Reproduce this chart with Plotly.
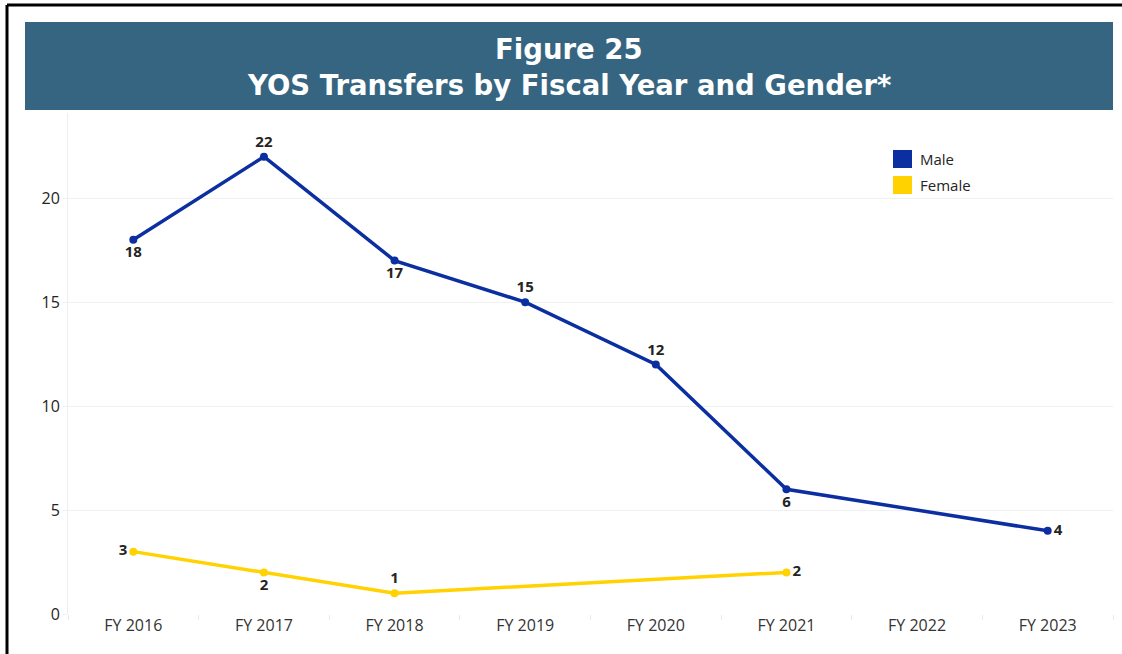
import plotly.graph_objects as go

years = ["FY 2016", "FY 2017", "FY 2018", "FY 2019", "FY 2020", "FY 2021", "FY 2022", "FY 2023"]
male = [18, 22, 17, 15, 12, 6, None, 4]
female = [3, 2, 1, None, None, 2, None, None]
series_names = ["Male", "Female"]
male_pos = ["bottom center", "top center", "bottom center", "top center", "top center",
            "bottom center", "top center", "middle right"]
female_pos = ["middle left", "bottom center", "top center", "top center", "top center",
              "middle right", "top center", "top center"]

MALE_C = "#0B2FA0"
FEMALE_C = "#FFD200"
TEXT_C = "#252423"
LABEL_FONT = dict(family="Open Sans", size=15, color=TEXT_C)

W, H = 1122, 654
L, R, T, B = 68, 9, 113, 40
pw, ph = W - L - R, H - T - B

def px(x):
    return (x - L) / pw

def py(y):
    return (H - B - y) / ph

fig = go.Figure()
for name, vals, pos, col in [(series_names[0], male, male_pos, MALE_C),
                             (series_names[1], female, female_pos, FEMALE_C)]:
    fig.add_trace(go.Scatter(
        x=years, y=vals, name=name, mode="lines+markers+text", connectgaps=True,
        line=dict(color=col, width=3.5), marker=dict(color=col, size=8),
        text=[("" if v is None else f"<b>{v}</b>") for v in vals], textposition=pos,
        textfont=LABEL_FONT, showlegend=False, cliponaxis=False))

shapes = [
    dict(type="rect", xref="paper", yref="paper", x0=px(25), x1=px(1113),
         y0=py(110), y1=py(22), fillcolor="#356580", line=dict(width=0), layer="above"),
    dict(type="line", xref="paper", yref="paper", x0=px(7), x1=px(7),
         y0=py(700), y1=py(5), line=dict(color="black", width=3)),
    dict(type="line", xref="paper", yref="paper", x0=px(7), x1=px(1130),
         y0=py(5), y1=py(5), line=dict(color="black", width=3)),
]
annotations = [
    dict(xref="paper", yref="paper", x=px(569), y=py(49), text="<b>Figure 25</b>",
         showarrow=False, font=dict(family="DejaVu Sans", size=27.5, color="white"),
         xanchor="center", yanchor="middle"),
    dict(xref="paper", yref="paper", x=px(569), y=py(85),
         text="<b>YOS Transfers by Fiscal Year and Gender*</b>",
         showarrow=False, font=dict(family="DejaVu Sans", size=27.5, color="white"),
         xanchor="center", yanchor="middle"),
]
# custom legend with large square swatches
for i, (name, col) in enumerate(zip(series_names, [MALE_C, FEMALE_C])):
    yc = 159 + 26 * i
    shapes.append(dict(type="rect", xref="paper", yref="paper", x0=px(893), x1=px(912),
                       y0=py(yc + 9), y1=py(yc - 9), fillcolor=col, line=dict(width=0)))
    annotations.append(dict(xref="paper", yref="paper", x=px(918), y=py(yc), text=name,
                            showarrow=False, xanchor="left", yanchor="middle",
                            font=dict(family="Open Sans", size=15, color=TEXT_C)))

fig.update_layout(
    width=W, height=H,
    margin=dict(l=L, r=R, t=T, b=B),
    paper_bgcolor="white", plot_bgcolor="white",
    font=dict(family="Open Sans", color="#333333", size=15),
    showlegend=False,
    xaxis=dict(type="category", range=[-0.5, 7.5], showgrid=False,
               ticks="outside", ticklen=5, tickcolor="#E8E8E8", tickson="boundaries",
               showline=False, zeroline=False, tickfont=dict(size=16, color="#333333")),
    yaxis=dict(range=[0, 24.1], dtick=5, showgrid=True, gridcolor="#F0F0F0", gridwidth=1,
               zeroline=False, showline=True, linecolor="#EEEEEE", linewidth=1,
               ticks="outside", ticklen=4, tickcolor="#F0F0F0",
               tickfont=dict(size=16, color=TEXT_C, family="Open Sans"),
               ticklabelstandoff=0),
    shapes=shapes,
    annotations=annotations,
)

fig.write_html("out.html", config={"displayModeBar": False},
               post_script="document.body.style.margin='0';document.body.style.overflow='hidden';")
